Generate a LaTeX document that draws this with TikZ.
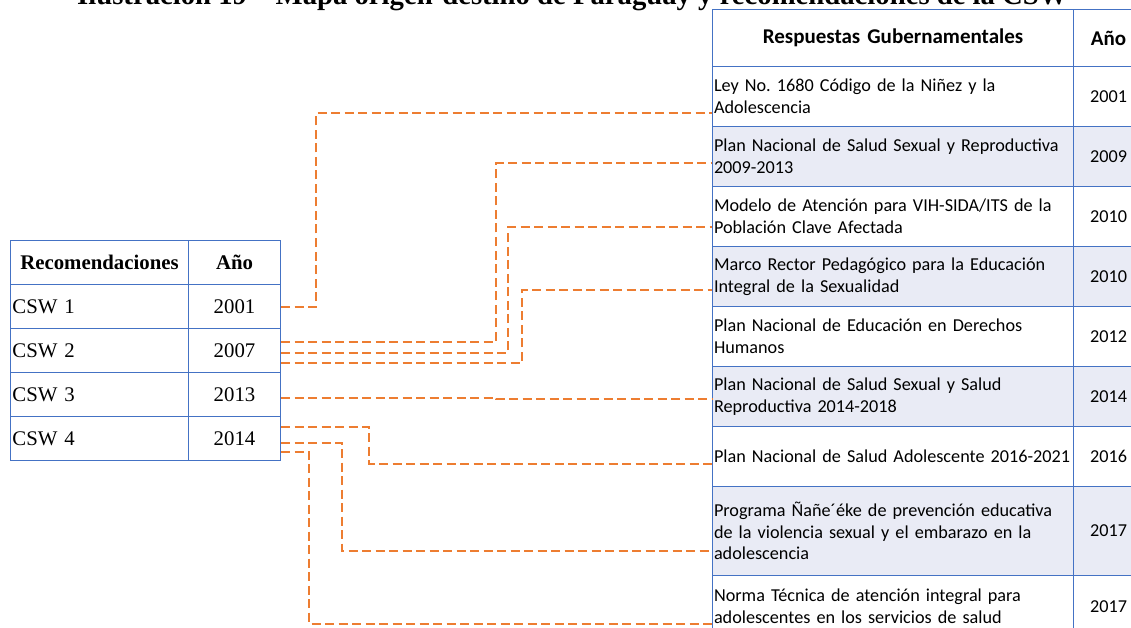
\documentclass[tikz,border=0pt]{standalone}
\usepackage{fontspec}
\setmainfont{Liberation Serif}
\newfontfamily\calibri{Carlito}
\usetikzlibrary{calc}

\definecolor{tabblue}{HTML}{4472C4}
\definecolor{linkorange}{HTML}{ED7D31}
\definecolor{rowshade}{HTML}{E9EBF5}

\newcommand{\lsize}{\fontsize{20.8}{24}\selectfont}
\newcommand{\rsize}{\fontsize{18.2}{21.7}\selectfont}
\newcommand{\rheadsize}{\fontsize{21}{24}\selectfont}

\tikzset{
  gridline/.style={draw=tabblue, line width=1pt},
  lcell/.style={gridline, anchor=north west, minimum height=44, inner sep=0pt, font=\lsize},
  rcell/.style={gridline, anchor=north west, text width=358, inner xsep=1.5, inner ysep=0pt, align=left, font=\calibri\rsize},
  ryear/.style={gridline, anchor=north west, minimum width=70, inner sep=0pt, font=\calibri\rsize},
  link/.style={draw=linkorange, line width=2pt, dash pattern=on 9pt off 4.5pt},
}

\begin{document}
\frenchspacing
\begin{tikzpicture}[x=1pt,y=-1pt]
  \useasboundingbox (0,0) rectangle (1131,628);
  \clip (0,0) rectangle (1131,628);
  % caption, cut by the page top
  \node[anchor=base west, inner sep=0pt, font=\bfseries\fontsize{28.7}{32}\selectfont] (title) at (77,5)
    {Ilustración 19\quad Mapa origen-destino de Paraguay y recomendaciones de la CSW};

  % recomendaciones
  \node[lcell, minimum width=178, font=\bfseries\lsize] (lhead) at (10,240) {Recomendaciones};
  \node[lcell, minimum width=92, font=\bfseries\lsize] (lheadyr) at (188,240) {Año};
  \foreach \i/\yr in {1/2001, 2/2007, 3/2013, 4/2014}{
    \node[lcell, text width=174, inner xsep=2, align=left] (csw\i) at (10,{240+44*\i}) {CSW \i};
    \node[lcell, minimum width=92] (yr\i) at (188,{240+44*\i}) {\yr};
  }

  % respuestas
  \node[rcell, minimum height=57, align=center, font=\calibri\bfseries\rheadsize] (rhead) at (712,9) {Respuestas Gubernamentales};
  \node[ryear, minimum height=57, font=\calibri\bfseries\rheadsize] (rheadyr) at (1073,9) {Año};
  \node[rcell, minimum height=60, fill=white] (r1) at (712,66) {Ley No. 1680 Código de la Niñez y la\\Adolescencia};
  \node[ryear, minimum height=60, fill=white] (y1) at (1073,66) {2001};
  \node[rcell, minimum height=60, fill=rowshade] (r2) at (712,126) {Plan Nacional de Salud Sexual y Reproductiva\\2009-2013};
  \node[ryear, minimum height=60, fill=rowshade] (y2) at (1073,126) {2009};
  \node[rcell, minimum height=60, fill=white] (r3) at (712,186) {Modelo de Atención para VIH-SIDA/ITS de la\\Población Clave Afectada};
  \node[ryear, minimum height=60, fill=white] (y3) at (1073,186) {2010};
  \node[rcell, minimum height=60, fill=rowshade] (r4) at (712,246) {Marco Rector Pedagógico para la Educación\\Integral de la Sexualidad};
  \node[ryear, minimum height=60, fill=rowshade] (y4) at (1073,246) {2010};
  \node[rcell, minimum height=60, fill=white] (r5) at (712,306) {Plan Nacional de Educación en Derechos\\Humanos};
  \node[ryear, minimum height=60, fill=white] (y5) at (1073,306) {2012};
  \node[rcell, minimum height=60, fill=rowshade] (r6) at (712,366) {Plan Nacional de Salud Sexual y Salud\\Reproductiva 2014-2018};
  \node[ryear, minimum height=60, fill=rowshade] (y6) at (1073,366) {2014};
  \node[rcell, minimum height=60, fill=white] (r7) at (712,426) {\mbox{Plan Nacional de Salud Adolescente 2016-2021}};
  \node[ryear, minimum height=60, fill=white] (y7) at (1073,426) {2016};
  \node[rcell, minimum height=89, fill=rowshade] (r8) at (712,486) {Programa Ñañe´éke de prevención educativa\\de la violencia sexual y el embarazo en la\\adolescencia};
  \node[ryear, minimum height=89, fill=rowshade] (y8) at (1073,486) {2017};
  \node[rcell, minimum height=62, fill=white] (r9) at (712,575) {Norma Técnica de atención integral para\\adolescentes en los servicios de salud};
  \node[ryear, minimum height=62, fill=white] (y9) at (1073,575) {2017};

  % links
  \draw[link] (yr1.east) -- ++(35,0) |- ($(r1.west)+(0,17)$);
  \draw[link] ($(yr2.east)+(0,-9)$) -- ++(215,0) |- ($(r2.west)+(0,7)$);
  \draw[link] ($(yr2.east)+(0,2)$) -- ++(227,0) |- ($(r3.west)+(0,11)$);
  \draw[link] ($(yr2.east)+(0,12)$) -- ++(241,0) |- ($(r4.west)+(0,13)$);
  \draw[link] ($(yr3.east)+(0,3)$) -- ++(215,0) |- ($(r6.west)+(0,2.5)$);
  \draw[link] ($(yr4.east)+(0,-12)$) -- ++(88,0) |- ($(r7.west)+(0,7)$);
  \draw[link] ($(yr4.east)+(0,4)$) -- ++(61,0) |- ($(r8.west)+(0,19.5)$);
  \draw[link] ($(yr4.east)+(0,13)$) -- ++(28,0) |- ($(r9.west)+(0,17)$);
\end{tikzpicture}
\end{document}
